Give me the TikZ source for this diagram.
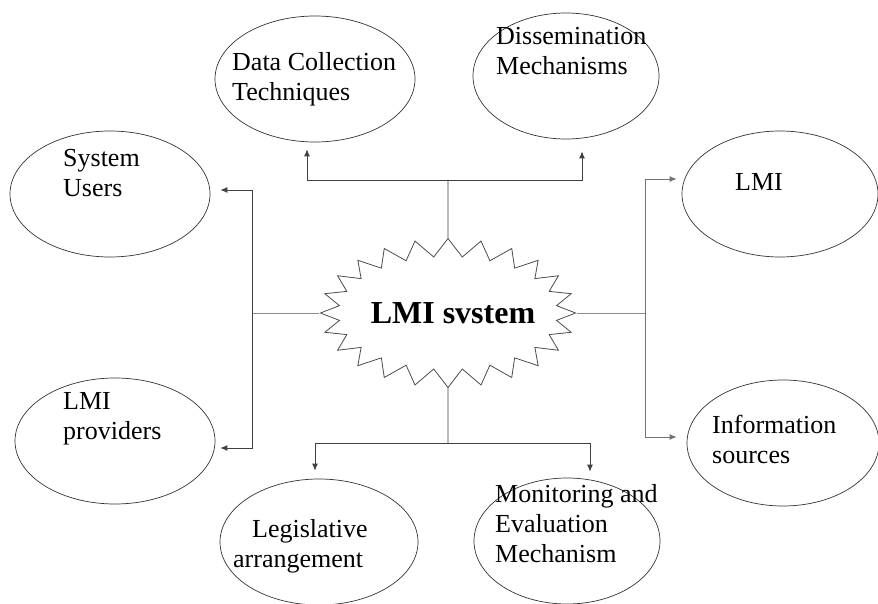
\documentclass[tikz,border=0pt]{standalone}
\usepackage{fontspec}
\setmainfont{Liberation Serif}
\usetikzlibrary{shapes.geometric,shapes.symbols,arrows.meta,calc}
\tikzstyle{bubble}=[ellipse,draw=black!80,line width=0.7pt,inner sep=0pt]
\tikzstyle{btext}=[anchor=north west,align=left,inner sep=0pt,font=\fontsize{26}{30}\selectfont]
\tikzstyle{burst}=[starburst,draw=black!70,fill=white,line width=0.8pt,starburst points=24,
  starburst point height=18pt,random starburst=0,inner xsep=-14pt,minimum width=255pt,minimum height=149pt,
  font=\fontsize{32}{36}\selectfont\bfseries]
\tikzstyle{link}=[draw=black!75,line width=0.9pt]
\tikzstyle{arrow}=[link,-{Latex[length=7pt,width=6pt]}]

\begin{document}
\begin{tikzpicture}[x=1pt,y=-1pt]
  \useasboundingbox (0,0) rectangle (878,604);
    % The seven bubbles round the system
    \foreach \pos/\name/\wd in {{(315,79)/dct/200},{(566,76)/dis/186},{(110,194)/users/200},
                                {(115,441)/prov/200},{(780,194)/lmi/196},{(783,443)/info/192},
                                {(319,542)/leg/198},{(567,541)/mon/186}}
        \node[bubble,minimum width=\wd pt,minimum height=126pt] (\name) at \pos {};
    % Their texts
    \node[btext] (dcttxt) at (232,52) {Data Collection\\Techniques};
    \node[btext] (distxt) at (496,27) {Dissemination\\Mechanisms};
    \node[btext] (userstxt) at (63,149) {System\\Users};
    \node[btext] (provtxt) at (63,392) {LMI\\providers};
    \node[btext] (lmitxt) at (735,173) {LMI};
    \node[btext] (infotxt) at (712,415) {Information\\sources};
    \node[btext] (legtxt) at (233,519) {\hspace*{19pt}Legislative\\arrangement};
    \node[btext] (montxt) at (495,484) {Monitoring and\\Evaluation\\Mechanism};
    % The system in the middle
    \node[burst] (lmis) at (448,313) {\hspace*{10pt}LMI svstem};
    % Junctions
    \coordinate (topj) at (448,180);
    \coordinate (leftj) at (252,313);
    \coordinate (rightj) at (645,313);
    \coordinate (botj) at (448,443);
    % Connect the system with the bubbles
    \path[link] (lmis) -- (topj);
    \path[link,draw=black!45] (lmis) -- (leftj);
    \path[link,draw=black!45] (lmis) -- (rightj);
    \path[link] (lmis) -- (botj);
    \path[arrow,shorten >=7pt] (topj) -| ($(dct.south)+(-8,0)$);
    \path[arrow,shorten >=12pt] (topj) -| ($(dis.south)+(16,0)$);
    \path[arrow,shorten >=10pt] (leftj) |- ($(users.east)+(0,-4)$);
    \path[arrow,shorten >=5pt] (leftj) |- ($(prov.east)+(0,7)$);
    \path[arrow,draw=black!55,shorten >=5pt] (rightj) |- ($(lmi.west)+(0,-15)$);
    \path[arrow,draw=black!55,shorten >=10pt] (rightj) |- ($(info.west)+(0,-6)$);
    \path[arrow,shorten >=8pt] (botj) -| ($(leg.north)+(-4,0)$);
    \path[arrow,shorten >=6pt] (botj) -| ($(mon.north)+(23,0)$);
\end{tikzpicture}
\end{document}
